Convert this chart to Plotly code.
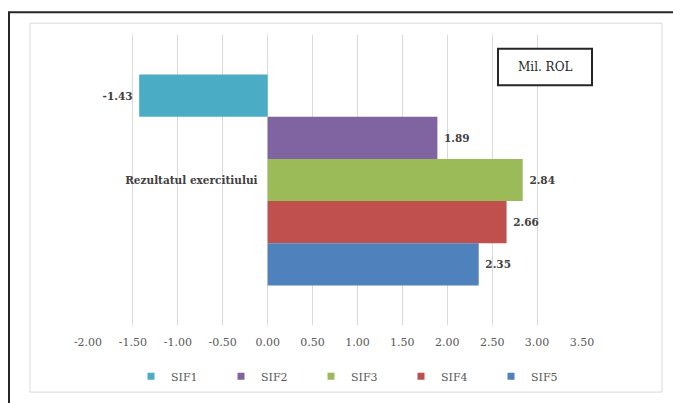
import plotly.graph_objects as go

categories = ["Rezultatul exercitiului"]
series_names = ["SIF1", "SIF2", "SIF3", "SIF4", "SIF5"]
series_values = [-1.43, 1.89, 2.84, 2.66, 2.35]
series_colors = ["#4BACC6", "#8064A2", "#9BBB59", "#C0504D", "#4F81BD"]
tick_vals = [-2.0, -1.5, -1.0, -0.5, 0.0, 0.5, 1.0, 1.5, 2.0, 2.5, 3.0, 3.5]
tick_labels = ["-2.00", "-1.50", "-1.00", "-0.50", "0.00", "0.50", "1.00",
               "1.50", "2.00", "2.50", "3.00", "3.50"]
unit_label = "Mil. ROL"

FONT = "DejaVu Serif"
W, H = 673, 403
L, R, T, B = 88, 91, 35, 74
pw, ph = W - L - R, H - T - B


def px_x(p):
    return (p - L) / pw


def px_y(p):
    return 1 - (p - T) / ph


fig = go.Figure()

for name, val, col in zip(series_names, series_values, series_colors):
    txt = f"{val:.2f}"
    txt = (" " + txt) if val >= 0 else (txt + " ")
    fig.add_trace(go.Bar(
        name=name, y=categories, x=[val], orientation="h",
        marker=dict(color=col, line=dict(width=0)),
        text=[txt], textposition="outside", cliponaxis=False,
        textfont=dict(family=FONT, size=10.5, color="#404040", weight="bold"),
        showlegend=False, hoverinfo="x+name",
    ))

for name, col in zip(series_names, series_colors):
    fig.add_trace(go.Scatter(
        name=name, x=[None], y=[None], mode="markers",
        marker=dict(symbol="square", size=7, color=col),
        showlegend=True,
    ))

xmin, xmax = tick_vals[0], tick_vals[-1]
zero_frac = (0 - xmin) / (xmax - xmin)

fig.update_layout(
    width=W, height=H,
    margin=dict(l=L, r=R, t=T, b=B, pad=0),
    paper_bgcolor="white", plot_bgcolor="white",
    barmode="group", bargap=0.272, bargroupgap=0,
    font=dict(family=FONT, size=11, color="#595959"),
    xaxis=dict(
        range=[xmin, xmax], tickvals=tick_vals, ticktext=tick_labels,
        showgrid=True, gridcolor="#D9D9D9", gridwidth=1,
        zeroline=False, showline=False,
        ticks="outside", ticklen=7, tickcolor="rgba(0,0,0,0)",
        tickfont=dict(family=FONT, size=11, color="#595959"),
        fixedrange=True,
    ),
    yaxis=dict(
        anchor="free", position=zero_frac, autorange="reversed",
        showgrid=False, zeroline=False, showline=False,
        ticks="outside", ticklen=8, tickcolor="rgba(0,0,0,0)",
        tickfont=dict(family=FONT, size=10.5, color="#404040", weight="bold"),
        fixedrange=True,
    ),
    legend=dict(
        orientation="h", x=px_x(131), xanchor="left",
        y=px_y(381), yanchor="middle",
        entrywidth=45, entrywidthmode="pixels",
        font=dict(family=FONT, size=11, color="#595959"),
        bgcolor="rgba(0,0,0,0)", borderwidth=0, itemclick=False,
    ),
    shapes=[
        dict(type="rect", xref="paper", yref="paper",
             x0=px_x(9), x1=px_x(700), y0=px_y(430), y1=px_y(12),
             line=dict(color="#262626", width=2), layer="below"),
        dict(type="rect", xref="paper", yref="paper",
             x0=px_x(30), x1=px_x(662), y0=px_y(397), y1=px_y(23),
             line=dict(color="#D9D9D9", width=1), layer="below"),
        dict(type="rect", xref="paper", yref="paper",
             x0=px_x(498), x1=px_x(592), y0=px_y(86), y1=px_y(49),
             line=dict(color="#262626", width=2), fillcolor="white",
             layer="above"),
    ],
    annotations=[
        dict(text=unit_label, xref="paper", yref="paper",
             x=px_x(545), y=px_y(67.5), xanchor="center", yanchor="middle",
             showarrow=False,
             font=dict(family=FONT, size=12, color="#262626")),
    ],
)

fig.write_html("out.html", config={"displayModeBar": False, "staticPlot": True})

with open("out.html", "r", encoding="utf-8") as f:
    html = f.read()
html = html.replace(
    "<head>",
    "<head><style>html,body{margin:0;padding:0;overflow:hidden;"
    "width:673px;height:403px;}</style>",
    1,
)
with open("out.html", "w", encoding="utf-8") as f:
    f.write(html)
